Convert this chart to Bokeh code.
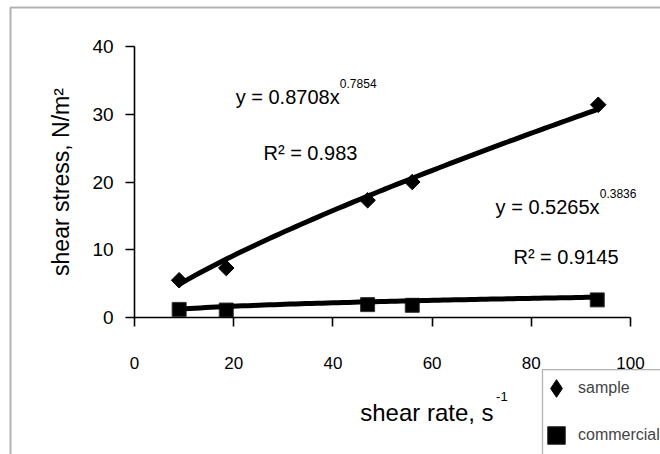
import numpy as np
from bokeh.plotting import figure
from bokeh.models import Range1d, Label, Legend, LegendItem, BoxAnnotation, FixedTicker
from bokeh.embed import file_html
from bokeh.resources import INLINE

# ---- data ----
rate_sample = [9.0, 18.5, 47.0, 56.0, 93.5]
stress_sample = [5.5, 7.3, 17.3, 20.0, 31.4]
rate_commercial = [9.0, 18.5, 47.0, 56.0, 93.3]
stress_commercial = [1.2, 1.1, 1.9, 1.8, 2.6]
# power-law trendline coefficients shown on the chart (y = a * x^b)
trend_sample = [0.8708, 0.7854]
trend_commercial = [0.5265, 0.3836]
r2_sample = "0.983"
r2_commercial = "0.9145"
x_ticks = [0, 20, 40, 60, 80, 100]
y_ticks = [0, 10, 20, 30, 40]
series_names = ["sample", "commercial"]

FONT = "Liberation Sans"

# frame covers the whole canvas; axes sit at fixed positions (x=0 / y=0)
p = figure(width=660, height=454,
           x_range=Range1d(-27.02, 106.05), y_range=Range1d(-20.22, 46.79),
           output_backend="svg", toolbar_location=None,
           min_border_left=0, min_border_right=0, min_border_top=0, min_border_bottom=0)
p.grid.visible = False
p.outline_line_color = None
p.background_fill_color = "white"
p.border_fill_color = "white"

for ax, ticks, bnds in ((p.xaxis[0], x_ticks, (0, 100)), (p.yaxis[0], y_ticks, (0, 40))):
    ax.ticker = FixedTicker(ticks=ticks)
    ax.bounds = bnds
    ax.fixed_location = 0
    ax.minor_tick_line_color = None
    ax.major_tick_in = 0
    ax.major_tick_out = 9
    ax.axis_line_width = 1.6
    ax.major_tick_line_width = 1.6
    ax.axis_line_color = "black"
    ax.major_tick_line_color = "black"
    ax.major_label_text_font = FONT
    ax.major_label_text_color = "black"

p.xaxis.major_label_text_font_size = "17px"
p.xaxis.major_label_standoff = 30
p.yaxis.major_label_text_font_size = "19px"
p.yaxis.major_label_standoff = 12
p.yaxis.axis_label = "shear stress, N/m²"
p.yaxis.axis_label_text_font = FONT
p.yaxis.axis_label_text_font_size = "23px"
p.yaxis.axis_label_text_font_style = "normal"
p.yaxis.axis_label_text_color = "black"
p.yaxis.axis_label_standoff = 15

# markers (a diamond-marker copy sits hidden under the rotated squares and
# provides the diamond key in the legend)
lg_s = p.scatter(rate_sample, stress_sample, marker="diamond", size=12,
                 fill_color="black", line_color="black")
r_s = p.scatter(rate_sample, stress_sample, marker="square", angle=np.pi / 4, size=11,
                fill_color="black", line_color="black")
r_c = p.scatter(rate_commercial, stress_commercial, marker="square", size=14,
                fill_color="black", line_color="#333333")

# trendlines
xs_s = np.linspace(min(rate_sample), max(rate_sample), 80)
p.line(xs_s, trend_sample[0] * xs_s ** trend_sample[1], line_width=5, line_color="black")
xs_c = np.linspace(min(rate_commercial), max(rate_commercial), 80)
p.line(xs_c, trend_commercial[0] * xs_c ** trend_commercial[1], line_width=5, line_color="black")

def lab(x, y, text, size, baseline="middle", align="left"):
    p.add_layout(Label(x=x, y=y, text=text, text_font=FONT, text_font_size=size,
                       text_baseline=baseline, text_align=align, text_color="black"))

lab(20.4, 32.6, "y = %.4fx" % trend_sample[0], "20px")
lab(41.4, 34.6, "%.4f" % trend_sample[1], "12px")
lab(26.0, 24.3, "R² = " + r2_sample, "20px")
lab(72.8, 16.3, "y = %.4fx" % trend_commercial[0], "20px")
lab(93.8, 18.3, "%.4f" % trend_commercial[1], "12px")
lab(76.4, 9.0, "R² = " + r2_commercial, "20px")

# x axis title (placed off-centre like the original)
lab(45.5, -14.0, "shear rate, s", "24px", baseline="alphabetic")
lab(72.9, -11.7, "-1", "13px", baseline="alphabetic")

# chart-area border
p.add_layout(BoxAnnotation(left=-25.0, right=125, top=45.76, bottom=-30,
                           fill_alpha=0, line_color="black", line_width=2))
# legend frame
p.add_layout(BoxAnnotation(left=82.26, right=125, top=-7.68, bottom=-30,
                           fill_alpha=0, line_color="black", line_width=1.3))

legend = Legend(items=[LegendItem(label=series_names[0], renderers=[lg_s]),
                       LegendItem(label=series_names[1], renderers=[r_c])],
                location=(534, -3), padding=0, spacing=3, label_height=30,
                glyph_height=44, glyph_width=44, label_standoff=-6, margin=0,
                label_text_font=FONT, label_text_font_size="16px",
                border_line_color=None, background_fill_alpha=0)
p.add_layout(legend)

open("out.html", "w").write(file_html(p, INLINE))
